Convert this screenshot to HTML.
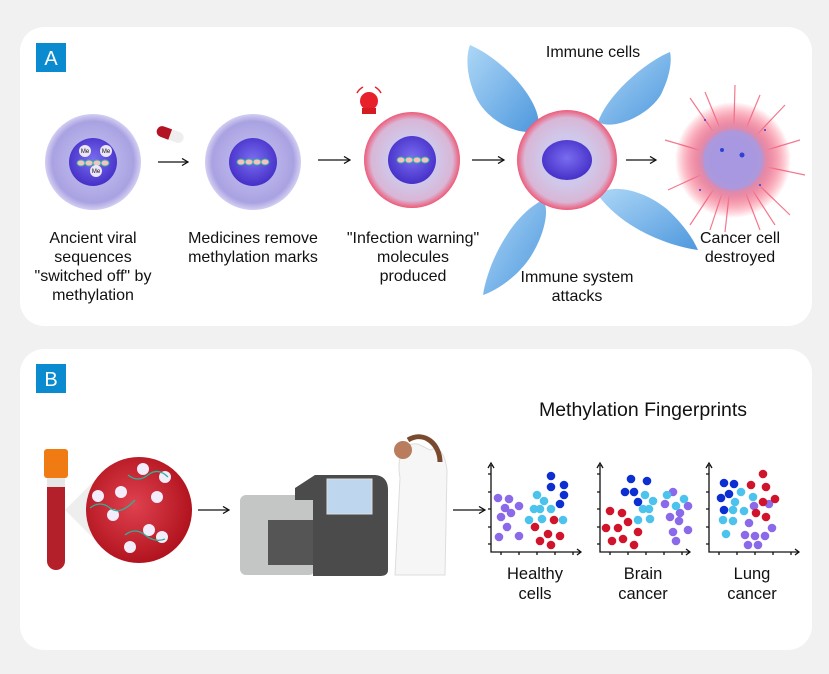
<!DOCTYPE html>
<html><head><meta charset="utf-8">
<style>
html,body{margin:0;padding:0;background:#f1f1f1;}
svg{display:block;}
text{font-family:"Liberation Sans",sans-serif;fill:#111;}
</style></head>
<body>
<svg width="829" height="674" viewBox="0 0 829 674" xmlns="http://www.w3.org/2000/svg">
<defs>
<radialGradient id="cyto" cx="50%" cy="50%" r="50%">
<stop offset="0.45" stop-color="#b9b3ea"/><stop offset="0.85" stop-color="#a9a2e2"/><stop offset="1" stop-color="#d3cff2"/>
</radialGradient>
<radialGradient id="cytoR" cx="50%" cy="50%" r="50%">
<stop offset="0.5" stop-color="#cfc8ea"/><stop offset="0.85" stop-color="#d9b6d6"/><stop offset="1" stop-color="#ee5a78"/>
</radialGradient>
<radialGradient id="nuc" cx="50%" cy="45%" r="55%">
<stop offset="0" stop-color="#7a6df0"/><stop offset="1" stop-color="#4630c8"/>
</radialGradient>
<radialGradient id="blood" cx="45%" cy="45%" r="55%">
<stop offset="0" stop-color="#e0414f"/><stop offset="1" stop-color="#b2141f"/>
</radialGradient>
<linearGradient id="imm" x1="0" y1="0" x2="1" y2="1">
<stop offset="0" stop-color="#9fd0f5"/><stop offset="1" stop-color="#2f86d8"/>
</linearGradient>
<radialGradient id="boom" cx="50%" cy="50%" r="50%">
<stop offset="0.35" stop-color="#9d90e0"/><stop offset="0.6" stop-color="#e88aa6"/><stop offset="1" stop-color="#ff3050" stop-opacity="0"/>
</radialGradient>
<marker id="ah" markerWidth="8" markerHeight="8" refX="7" refY="4" orient="auto" markerUnits="userSpaceOnUse">
<path d="M1,0.5 L7,4 L1,7.5" fill="none" stroke="#111" stroke-width="1.3"/></marker>
</defs>

<rect x="20" y="27" width="792" height="299" rx="24" fill="#fff"/>
<rect x="20" y="349" width="792" height="301" rx="24" fill="#fff"/>
<rect x="36" y="43" width="30" height="29" fill="#0a8bd0"/>
<text x="51" y="65" font-size="20" text-anchor="middle" style="fill:#fff">A</text>
<rect x="36" y="364" width="30" height="29" fill="#0a8bd0"/>
<text x="51" y="386" font-size="20" text-anchor="middle" style="fill:#fff">B</text>

<circle cx="93" cy="162" r="48" fill="url(#cyto)"/>
<circle cx="93" cy="162" r="24" fill="url(#nuc)"/>
<g fill="#f4c2c0" stroke="#3bb3a0" stroke-width="1"><ellipse cx="81" cy="163" rx="4" ry="3"/><ellipse cx="89" cy="163" rx="4" ry="3"/><ellipse cx="97" cy="163" rx="4" ry="3"/><ellipse cx="105" cy="163" rx="4" ry="3"/></g>
<g fill="#ece6f8"><circle cx="85" cy="151" r="6"/><circle cx="106" cy="151" r="6"/><circle cx="96" cy="171" r="6"/></g>
<g font-size="6" text-anchor="middle"><text x="85" y="153">Me</text><text x="106" y="153">Me</text><text x="96" y="173">Me</text></g>

<line x1="158" y1="162" x2="188" y2="162" stroke="#111" stroke-width="1.3" marker-end="url(#ah)"/>
<g transform="rotate(20 170 135)"><rect x="156" y="129" width="28" height="11" rx="5.5" fill="#eee"/><path d="M161.5,129 h8.5 v11 h-8.5 a5.5,5.5 0 0 1 0,-11z" fill="#b31322"/></g>

<circle cx="253" cy="162" r="48" fill="url(#cyto)"/>
<circle cx="253" cy="162" r="24" fill="url(#nuc)"/>
<g fill="#f4c2c0" stroke="#3bb3a0" stroke-width="1"><ellipse cx="241" cy="162" rx="4" ry="3"/><ellipse cx="249" cy="162" rx="4" ry="3"/><ellipse cx="257" cy="162" rx="4" ry="3"/><ellipse cx="265" cy="162" rx="4" ry="3"/></g>

<line x1="318" y1="160" x2="350" y2="160" stroke="#111" stroke-width="1.3" marker-end="url(#ah)"/>
<circle cx="369" cy="101" r="9" fill="#e8202a"/><rect x="362" y="108" width="14" height="6" fill="#d41a22"/>
<path d="M357,93 a14,14 0 0 1 6,-6 M381,93 a14,14 0 0 0 -6,-6" stroke="#e8202a" fill="none" stroke-width="1.5"/>

<circle cx="412" cy="160" r="48" fill="url(#cytoR)"/>
<circle cx="412" cy="160" r="24" fill="url(#nuc)"/>
<g fill="#f4c2c0" stroke="#3bb3a0" stroke-width="1"><ellipse cx="401" cy="160" rx="4" ry="3"/><ellipse cx="409" cy="160" rx="4" ry="3"/><ellipse cx="417" cy="160" rx="4" ry="3"/><ellipse cx="425" cy="160" rx="4" ry="3"/></g>

<line x1="472" y1="160" x2="504" y2="160" stroke="#111" stroke-width="1.3" marker-end="url(#ah)"/>

<g fill="url(#imm)" opacity="0.85">
<path d="M470,45 C505,60 545,105 538,130 C520,138 485,120 475,95 C466,75 466,55 470,45z"/>
<path d="M670,52 C650,60 610,90 598,122 C615,132 655,112 663,90 C670,75 672,60 670,52z"/>
<path d="M483,295 C488,262 512,215 543,200 C552,212 540,250 520,270 C508,283 492,292 483,295z"/>
<path d="M698,250 C668,246 622,228 598,195 C615,180 655,195 673,215 C688,230 695,243 698,250z"/>
</g>
<circle cx="567" cy="160" r="50" fill="url(#cytoR)"/>
<ellipse cx="567" cy="160" rx="25" ry="20" fill="url(#nuc)"/>

<line x1="626" y1="160" x2="656" y2="160" stroke="#111" stroke-width="1.3" marker-end="url(#ah)"/>
<g stroke="#f04060" stroke-width="1.2" opacity="0.7">
<path d="M733,160 L690,98 M733,160 L705,92 M733,160 L760,95 M733,160 L785,105 M733,160 L800,140 M733,160 L805,175 M733,160 L790,215 M733,160 L760,230 M733,160 L725,232 M733,160 L690,225 M733,160 L668,190 M733,160 L665,140 M733,160 L735,85 M733,160 L710,230 M733,160 L775,225"/>
</g>
<circle cx="733" cy="160" r="58" fill="url(#boom)"/>
<circle cx="733" cy="160" r="30" fill="#a99ae0" opacity="0.85"/>
<g fill="#3040d0"><circle cx="722" cy="150" r="2"/><circle cx="742" cy="155" r="2.5"/><circle cx="705" cy="120" r="1"/><circle cx="765" cy="130" r="1"/><circle cx="760" cy="185" r="1"/><circle cx="700" cy="190" r="1"/></g>

<g font-size="16" text-anchor="middle">
<text x="593" y="57">Immune cells</text>
<text x="93" y="243">Ancient viral</text><text x="93" y="262">sequences</text><text x="93" y="281">"switched off" by</text><text x="93" y="300">methylation</text>
<text x="253" y="243">Medicines remove</text><text x="253" y="262">methylation marks</text>
<text x="413" y="243">"Infection warning"</text><text x="413" y="262">molecules</text><text x="413" y="281">produced</text>
<text x="577" y="282">Immune system</text><text x="577" y="301">attacks</text>
<text x="740" y="243">Cancer cell</text><text x="740" y="262">destroyed</text>
</g>

<rect x="47" y="478" width="18" height="92" rx="9" fill="#b3202a"/>
<rect x="47" y="478" width="18" height="9" fill="#e6e6e6"/>
<rect x="44" y="449" width="24" height="29" rx="3" fill="#f07b12"/>
<path d="M65,510 L95,480 L95,540z" fill="#eee"/>
<circle cx="139" cy="510" r="53" fill="url(#blood)"/>
<g fill="#f3ecfa"><circle cx="143" cy="469" r="6"/><circle cx="165" cy="477" r="6"/><circle cx="157" cy="497" r="6"/><circle cx="98" cy="496" r="6"/><circle cx="121" cy="492" r="6"/><circle cx="113" cy="515" r="6"/><circle cx="149" cy="530" r="6"/><circle cx="162" cy="537" r="6"/><circle cx="130" cy="547" r="6"/></g>
<g stroke="#2bb39a" stroke-width="1.3" fill="none"><path d="M128,475 q10,8 20,0 t20,2"/><path d="M90,508 q10,-8 20,0 t25,-8"/><path d="M125,535 q10,-8 20,0 t20,4"/></g>
<line x1="198" y1="510" x2="229" y2="510" stroke="#111" stroke-width="1.3" marker-end="url(#ah)"/>
<rect x="240" y="495" width="75" height="80" rx="6" fill="#c4c6c6"/>
<path d="M295,488 L315,475 L375,475 Q388,476 388,490 L388,570 Q388,576 380,576 L313,576 L313,500 L295,500z" fill="#4b4b4c"/>
<rect x="268" y="520" width="45" height="45" fill="#555"/>
<rect x="327" y="479" width="45" height="35" fill="#bfd7ee" stroke="#ddd"/>
<path d="M400,478 C395,450 410,440 420,445 L430,450 C440,445 445,455 447,470 L445,575 L395,575z" fill="#f6f6f6" stroke="#ddd"/>
<circle cx="403" cy="450" r="9" fill="#b97c5c"/>
<path d="M408,440 C425,430 440,445 440,462" stroke="#7a4a2e" stroke-width="5" fill="none"/>
<line x1="453" y1="510" x2="485" y2="510" stroke="#111" stroke-width="1.3" marker-end="url(#ah)"/>

<text x="643" y="416" font-size="19.5" text-anchor="middle">Methylation Fingerprints</text>

<g stroke="#111" stroke-width="1.3" fill="none">
<path d="M491,465 V552 H580"/><path d="M488,468 L491,463 L494,468"/><path d="M577,549 L581,552 L577,555"/>
<path d="M600,465 V552 H689"/><path d="M597,468 L600,463 L603,468"/><path d="M686,549 L690,552 L686,555"/>
<path d="M709,465 V552 H798"/><path d="M706,468 L709,463 L712,468"/><path d="M795,549 L799,552 L795,555"/>
</g>
<g stroke="#111" stroke-width="1.3">
<path d="M488,474h3M488,492h3M488,509h3M488,527h3M488,544h3M501,552v3M519,552v3M537,552v3M555,552v3M573,552v3"/>
<path d="M597,474h3M597,492h3M597,509h3M597,527h3M597,544h3M610,552v3M628,552v3M646,552v3M664,552v3M682,552v3"/>
<path d="M706,474h3M706,492h3M706,509h3M706,527h3M706,544h3M719,552v3M737,552v3M755,552v3M773,552v3M791,552v3"/>
</g>
<g fill="#8a6ae8">
<circle cx="498" cy="498" r="4.3"/><circle cx="509" cy="499" r="4.3"/><circle cx="505" cy="508" r="4.3"/><circle cx="519" cy="506" r="4.3"/><circle cx="501" cy="517" r="4.3"/><circle cx="511" cy="513" r="4.3"/><circle cx="507" cy="527" r="4.3"/><circle cx="499" cy="537" r="4.3"/><circle cx="519" cy="536" r="4.3"/>
<circle cx="673" cy="492" r="4.3"/><circle cx="665" cy="504" r="4.3"/><circle cx="688" cy="506" r="4.3"/><circle cx="680" cy="513" r="4.3"/><circle cx="670" cy="517" r="4.3"/><circle cx="679" cy="521" r="4.3"/><circle cx="688" cy="530" r="4.3"/><circle cx="673" cy="532" r="4.3"/><circle cx="676" cy="541" r="4.3"/>
<circle cx="754" cy="506" r="4.3"/><circle cx="769" cy="504" r="4.3"/><circle cx="749" cy="523" r="4.3"/><circle cx="772" cy="528" r="4.3"/><circle cx="745" cy="535" r="4.3"/><circle cx="755" cy="536" r="4.3"/><circle cx="765" cy="536" r="4.3"/><circle cx="748" cy="545" r="4.3"/><circle cx="758" cy="545" r="4.3"/>
</g>
<g fill="#4cc3ec">
<circle cx="537" cy="495" r="4.3"/><circle cx="544" cy="501" r="4.3"/><circle cx="534" cy="509" r="4.3"/><circle cx="540" cy="509" r="4.3"/><circle cx="551" cy="509" r="4.3"/><circle cx="529" cy="520" r="4.3"/><circle cx="542" cy="519" r="4.3"/><circle cx="563" cy="520" r="4.3"/>
<circle cx="645" cy="495" r="4.3"/><circle cx="653" cy="501" r="4.3"/><circle cx="643" cy="509" r="4.3"/><circle cx="649" cy="509" r="4.3"/><circle cx="638" cy="520" r="4.3"/><circle cx="650" cy="519" r="4.3"/><circle cx="667" cy="495" r="4.3"/><circle cx="676" cy="506" r="4.3"/><circle cx="684" cy="499" r="4.3"/>
<circle cx="741" cy="492" r="4.3"/><circle cx="753" cy="497" r="4.3"/><circle cx="735" cy="502" r="4.3"/><circle cx="733" cy="510" r="4.3"/><circle cx="744" cy="511" r="4.3"/><circle cx="723" cy="520" r="4.3"/><circle cx="733" cy="521" r="4.3"/><circle cx="726" cy="534" r="4.3"/>
</g>
<g fill="#0b2fd0">
<circle cx="551" cy="476" r="4.3"/><circle cx="564" cy="485" r="4.3"/><circle cx="551" cy="487" r="4.3"/><circle cx="564" cy="495" r="4.3"/><circle cx="560" cy="504" r="4.3"/>
<circle cx="631" cy="479" r="4.3"/><circle cx="647" cy="481" r="4.3"/><circle cx="625" cy="492" r="4.3"/><circle cx="634" cy="492" r="4.3"/><circle cx="638" cy="502" r="4.3"/>
<circle cx="724" cy="483" r="4.3"/><circle cx="734" cy="484" r="4.3"/><circle cx="729" cy="494" r="4.3"/><circle cx="721" cy="498" r="4.3"/><circle cx="724" cy="510" r="4.3"/>
</g>
<g fill="#d0142b">
<circle cx="554" cy="520" r="4.3"/><circle cx="535" cy="527" r="4.3"/><circle cx="548" cy="534" r="4.3"/><circle cx="540" cy="541" r="4.3"/><circle cx="560" cy="536" r="4.3"/><circle cx="551" cy="545" r="4.3"/>
<circle cx="610" cy="511" r="4.3"/><circle cx="622" cy="513" r="4.3"/><circle cx="628" cy="522" r="4.3"/><circle cx="606" cy="528" r="4.3"/><circle cx="618" cy="528" r="4.3"/><circle cx="638" cy="532" r="4.3"/><circle cx="612" cy="541" r="4.3"/><circle cx="623" cy="539" r="4.3"/><circle cx="634" cy="545" r="4.3"/>
<circle cx="763" cy="474" r="4.3"/><circle cx="751" cy="485" r="4.3"/><circle cx="766" cy="487" r="4.3"/><circle cx="763" cy="502" r="4.3"/><circle cx="775" cy="499" r="4.3"/><circle cx="756" cy="513" r="4.3"/><circle cx="766" cy="517" r="4.3"/>
</g>
<g font-size="16.5" text-anchor="middle">
<text x="535" y="579">Healthy</text><text x="535" y="599">cells</text>
<text x="643" y="579">Brain</text><text x="643" y="599">cancer</text>
<text x="752" y="579">Lung</text><text x="752" y="599">cancer</text>
</g>
</svg>
</body></html>
